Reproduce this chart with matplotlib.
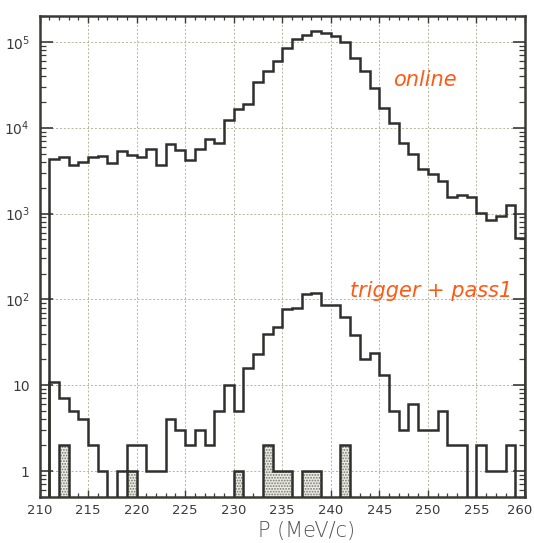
import numpy as np
import matplotlib
matplotlib.use("Agg")
import matplotlib.pyplot as plt
import matplotlib.transforms as mtransforms
from matplotlib.ticker import MultipleLocator, LogLocator, FixedLocator, FixedFormatter, NullFormatter

# ---------------- data ----------------
bin_edges = np.arange(210, 261, 1)  # 1 MeV/c bins, 210..260

online = [0, 4300, 4500, 3720, 3990, 4570, 4690, 3830, 5320, 4860,
          4570, 5610, 3720, 6420, 5470, 4180, 5710, 7350, 6550, 12400,
          16400, 18900, 34400, 45600, 59400, 85000, 107000, 120000, 135000, 127000,
          118000, 100000, 64500, 45400, 29000, 17000, 11300, 6550, 5000, 3290,
          2880, 2380, 1550, 1660, 1550, 1020, 840, 940, 1240, 520]

trigger_pass1 = [0, 11, 7, 5, 4, 2, 1, 0, 1, 2,
                 2, 1, 1, 4, 3, 2, 3, 2, 5, 10,
                 5, 16, 23, 40, 48, 77, 80, 115, 118, 86,
                 86, 63, 38, 20, 24, 13, 5, 3, 6, 3,
                 3, 5, 2, 2, 0, 2, 1, 1, 2, 0]

shaded = [0, 0, 2, 0, 0, 0, 0, 0, 0, 1,
          0, 0, 0, 0, 0, 0, 0, 0, 0, 0,
          1, 0, 0, 2, 1, 1, 0, 1, 1, 0,
          0, 2, 0, 0, 0, 0, 0, 0, 0, 0,
          0, 0, 0, 0, 0, 0, 0, 0, 0, 0]

x_ticks = [210, 215, 220, 225, 230, 235, 240, 245, 250, 255, 260]
y_ticks = [1, 10, 100, 1000, 10000, 100000]
y_tick_labels = ["1", "10", r"$10^{2}$", r"$10^{3}$", r"$10^{4}$", r"$10^{5}$"]
x_label = "P (MeV/c)"

# ---------------- figure ----------------
plt.rcParams['font.family'] = ['DejaVu Sans']
plt.rcParams['mathtext.fontset'] = 'dejavusans'
plt.rcParams['hatch.linewidth'] = 0.9

fig = plt.figure(figsize=(5.34, 5.43), dpi=100)
ax = fig.add_axes([0.074, 0.085, 0.909, 0.8855])
ax.set_yscale('log')
ax.set_xlim(210, 260)
ax.set_ylim(0.5, 2.0e5)

floor = 0.05
line_col = '#2f302c'

def fl(v):
    v = np.asarray(v, dtype=float)
    return np.where(v > 0, v, floor)

# shaded histogram (dotted fill)
ax.stairs(fl(shaded), bin_edges, baseline=floor, fill=True,
          facecolor='#ecece6', edgecolor='#77776d', hatch='......', linewidth=0, zorder=2)
ax.stairs(fl(shaded), bin_edges, baseline=floor, fill=False,
          edgecolor=line_col, linewidth=1.8, zorder=3)

# online and trigger + pass1
ax.stairs(fl(online), bin_edges, baseline=floor, fill=False,
          edgecolor=line_col, linewidth=1.8, zorder=4)
ax.stairs(fl(trigger_pass1), bin_edges, baseline=floor, fill=False,
          edgecolor=line_col, linewidth=1.8, zorder=4)

# axes, ticks, grid
ax.xaxis.set_major_locator(FixedLocator(x_ticks))
ax.xaxis.set_minor_locator(MultipleLocator(1))
ax.yaxis.set_major_locator(FixedLocator(y_ticks))
ax.yaxis.set_major_formatter(FixedFormatter(y_tick_labels))
ax.yaxis.set_minor_locator(LogLocator(base=10, subs=np.arange(2, 10), numticks=20))
ax.yaxis.set_minor_formatter(NullFormatter())
ax.grid(True, which='major', color='#b4b49c', linestyle=(0, (2, 2)), linewidth=0.7, zorder=1)

for sp in ax.spines.values():
    sp.set_linewidth(1.8)
    sp.set_color('#3a3b36')

ax.tick_params(axis='both', which='both', direction='in', top=True, right=True,
               color='#3a3b36', labelcolor='#3a3a3a')
ax.tick_params(axis='x', which='major', length=5, width=1.0, labelsize=9.5, pad=5)
ax.tick_params(axis='x', which='minor', length=3, width=0.9)
ax.tick_params(axis='y', which='major', length=9, width=1.2, labelsize=10, pad=7)
ax.tick_params(axis='y', which='minor', length=4, width=0.9)

ax.set_xlabel(x_label, fontsize=15, color='#555555', fontweight='light')
ax.xaxis.set_label_coords(0.55, -0.05)

# nudge the last x tick label so it stays inside the figure
fig.canvas.draw()
last = ax.get_xticklabels()[-1]
last.set_transform(last.get_transform() + mtransforms.ScaledTranslation(-5 / 100, 0, fig.dpi_scale_trans))

# hand-written style annotations
ax.text(249.7, 3.6e4, "online", color='#ff5a14', fontsize=15, ha='center', va='center',
        fontstyle='italic')
ax.text(250.3, 1.25e2, "trigger + pass1", color='#ff5a14', fontsize=15, ha='center', va='center',
        fontstyle='italic')

fig.savefig("out.png", dpi=100, facecolor='white')
